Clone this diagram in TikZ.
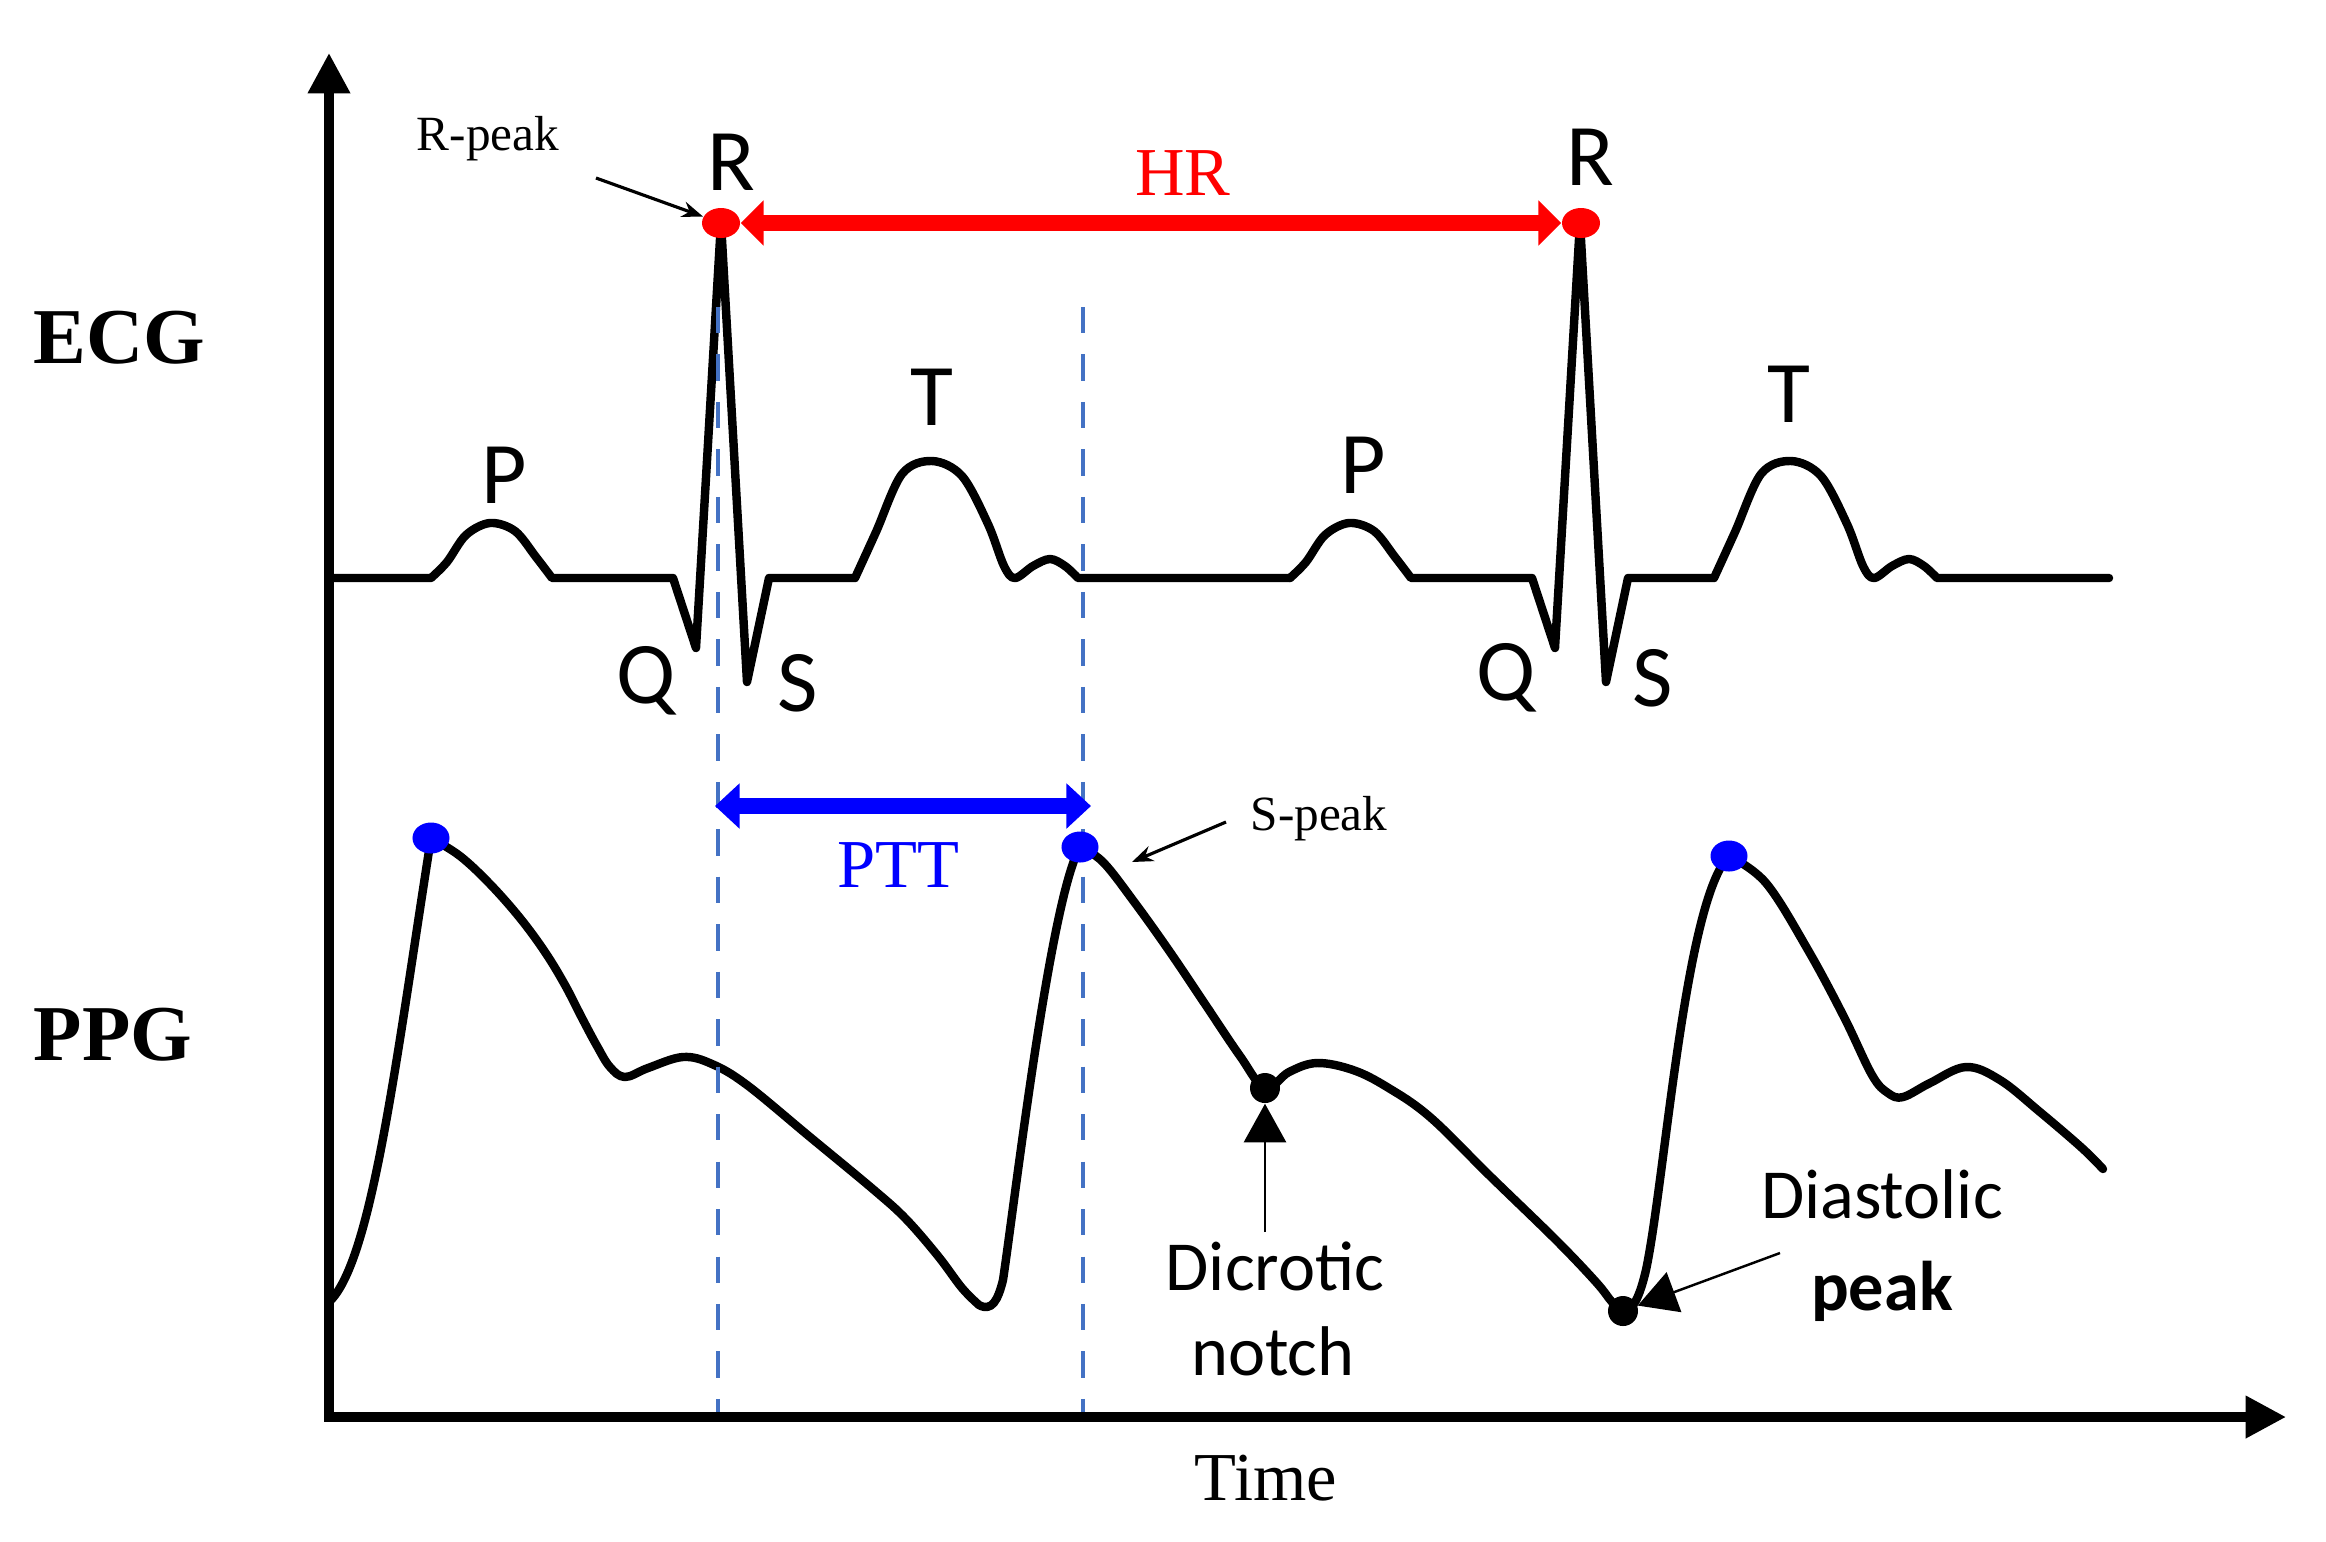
\documentclass[tikz,border=0pt]{standalone}
\usepackage{fontspec}
\setmainfont{Liberation Serif}
\newfontfamily\calib{Carlito}
\usetikzlibrary{arrows.meta,shapes.geometric}
\definecolor{dashblue}{RGB}{68,114,196}
\begin{document}
\begin{tikzpicture}[x=0.01cm,y=-0.01cm,
  sig/.style={line width=2.4pt, line join=round, line cap=round},
  axisline/.style={line width=2.6pt, line join=miter,
     {Triangle[length=11.5pt,width=11.5pt]}-{Triangle[length=11.5pt,width=11.5pt]}},
  dashline/.style={dashblue, line width=1.2pt, dash pattern=on 7.5pt off 6pt},
  lbl/.style={font=\calib\fontsize{25}{30}\selectfont, inner sep=0pt, anchor=base},
  note/.style={font=\calib\fontsize{20}{24}\selectfont, inner sep=0pt, anchor=base},
  serifl/.style={font=\fontsize{19.5}{23}\selectfont, inner sep=0pt, anchor=base},
  smalll/.style={font=\fontsize{14}{17}\selectfont, inner sep=0pt, anchor=base},
  big/.style={font=\bfseries\fontsize{22.5}{27}\selectfont, inner sep=0pt, anchor=west},
  reddot/.style={ellipse, fill=red, minimum width=0.38cm, minimum height=0.30cm, inner sep=0pt},
  bluedot/.style={ellipse, fill=blue, minimum width=0.37cm, minimum height=0.31cm, inner sep=0pt},
  blackdot/.style={circle, fill=black, minimum size=0.30cm, inner sep=0pt},
  hrarrow/.style={red, line width=4.6pt, {Triangle[length=6.5pt,width=12.5pt]}-{Triangle[length=6.5pt,width=12.5pt]}},
  pttarrow/.style={blue, line width=4.6pt, {Triangle[length=7pt,width=12.5pt]}-{Triangle[length=7pt,width=12.5pt]}},
  ptr/.style={line width=0.9pt, -{Stealth[length=6pt,width=4.5pt]}},
  notearrow/.style={line width=0.7pt, -{Triangle[length=11pt,width=12pt]}}
]
\useasboundingbox (0,0) rectangle (2326,1541);

% ---------- coordinates ----------
\coordinate (ytip) at (329,53);
\coordinate (orig) at (329,1417);
\coordinate (xtip) at (2286,1417);
\coordinate (d1top) at (718,307);
\coordinate (d1bot) at (718,1417);
\coordinate (d2top) at (1083,307);
\coordinate (d2bot) at (1083,1417);
\coordinate (ptta) at (715,806);
\coordinate (pttb) at (1091,806);
\coordinate (rpkstart) at (596,178);
\coordinate (spkstart) at (1226,822);
\coordinate (spkend) at (1132,862);
\coordinate (dicstart) at (1265,1232);
\coordinate (diastart) at (1780,1253);

% ---------- ECG ----------
\draw[sig] (329,578) -- (431,578)
  -- plot[smooth,tension=.55] coordinates {(431,578) (447,562) (466,535) (490,523) (515,531) (536,557) (552,578)}
  -- (673,578) -- (696,648) -- (721,222) -- (747,682) -- (769,578) -- (855,578)
  -- plot[smooth,tension=.55] coordinates {(855,578) (876,532) (902,474) (932,461) (962,476) (988,524) (1004,566) (1015,578) (1033,566) (1050,559) (1065,566) (1078,578)}
  -- (1290,578);
\begin{scope}[shift={(859,0)}]
\draw[sig] (431,578)
  -- plot[smooth,tension=.55] coordinates {(431,578) (447,562) (466,535) (490,523) (515,531) (536,557) (552,578)}
  -- (673,578) -- (696,648) -- (721,222) -- (747,682) -- (769,578) -- (855,578)
  -- plot[smooth,tension=.55] coordinates {(855,578) (876,532) (902,474) (932,461) (962,476) (988,524) (1004,566) (1015,578) (1033,566) (1050,559) (1065,566) (1078,578)}
  -- (1250,578);
\end{scope}

% ---------- PPG ----------
\draw[sig] (329,1302) .. controls (372,1262) and (396,1060) .. (431,838)
  -- plot[smooth,tension=.6] coordinates {
 (431,838) (460,856) (490,884) (520,918) (545,952) (565,985) (582,1018) (597,1046)
 (610,1067) (625,1077) (648,1068) (683,1057) (712,1064) (747,1085) (810,1137)
 (874,1190) (906,1219) (938,1256) (962,1288) (979,1305)}
  .. controls (992,1312) and (998,1300) .. (1003,1280)
  .. controls (1015,1200) and (1050,900) .. (1080,847)
  -- plot[smooth,tension=.6] coordinates {
 (1080,847) (1103,862) (1135,903) (1170,952) (1205,1004) (1240,1056) (1265,1088)
 (1289,1072) (1317,1063) (1353,1070) (1387,1087) (1430,1117) (1490,1176)
 (1556,1240) (1596,1282) (1612,1302) (1623,1312)}
  .. controls (1634,1310) and (1640,1295) .. (1646,1270)
  .. controls (1665,1180) and (1685,900) .. (1729,856)
  -- plot[smooth,tension=.6] coordinates {
 (1729,856) (1766,883) (1808,950) (1844,1017) (1872,1075) (1888,1093)
 (1903,1097) (1930,1083) (1966,1067) (2000,1080) (2040,1112) (2082,1148) (2103,1169)};

% ---------- dashed guides ----------
\draw[dashline] (d1top) -- (d1bot);
\draw[dashline] (d2top) -- (d2bot);

% ---------- axes ----------
\draw[axisline] (ytip) -- (orig) -- (xtip);

% ---------- dots ----------
\node[reddot] (R1dot) at (721,223) {};
\node[reddot] (R2dot) at (1581,223) {};
\node[bluedot] (pk1) at (431,838) {};
\node[bluedot] (pk2) at (1080,847) {};
\node[bluedot] (pk3) at (1729,856) {};
\node[blackdot] (notchdot) at (1265,1088) {};
\node[blackdot] (mindot) at (1623,1311) {};

% ---------- interval arrows ----------
\draw[hrarrow] (R1dot.east) -- (R2dot.west);
\draw[pttarrow] (ptta) -- (pttb);

% ---------- labels ----------
\node[big] (ecg) at (33,338) {ECG};
\node[big] (ppg) at (33,1035) {PPG};

\node[lbl] (r1lab) at (731,190) {R};
\node[lbl] (r2lab) at (1590,185) {R};
\node[lbl] (p1lab) at (504,503) {P};
\node[lbl] (t1lab) at (932,425) {T};
\node[lbl] (q1lab) at (646,703) {Q};
\node[lbl] (s1lab) at (798,711) {S};
\node[lbl] (p2lab) at (1363,493) {P};
\node[lbl] (t2lab) at (1789,422) {T};
\node[lbl] (q2lab) at (1506,700) {Q};
\node[lbl] (s2lab) at (1653,706) {S};

\node[serifl, red] (hrlab) at (1183,195) {HR};
\node[serifl, blue] (pttlab) at (898,887) {PTT};
\node[serifl] (timelab) at (1266,1500) {Time};
\node[smalll] (rpklab) at (488,150) {R-peak};
\node[smalll] (spklab) at (1319,830) {S-peak};

\node[note] (dic1) at (1275,1290) {Dicrotic};
\node[note] (dic2) at (1273,1375) {notch};
\node[note] (dia1) at (1882,1218) {Diastolic};
\node[note] (dia2) at (1882,1310) {\bfseries peak};

% ---------- pointer arrows ----------
\draw[ptr] (rpkstart) -- (R1dot);
\draw[ptr] (spkstart) -- (spkend);
\draw[notearrow] (dicstart) -- (notchdot.south);
\draw[notearrow] (diastart) -- (mindot);
\end{tikzpicture}
\end{document}
